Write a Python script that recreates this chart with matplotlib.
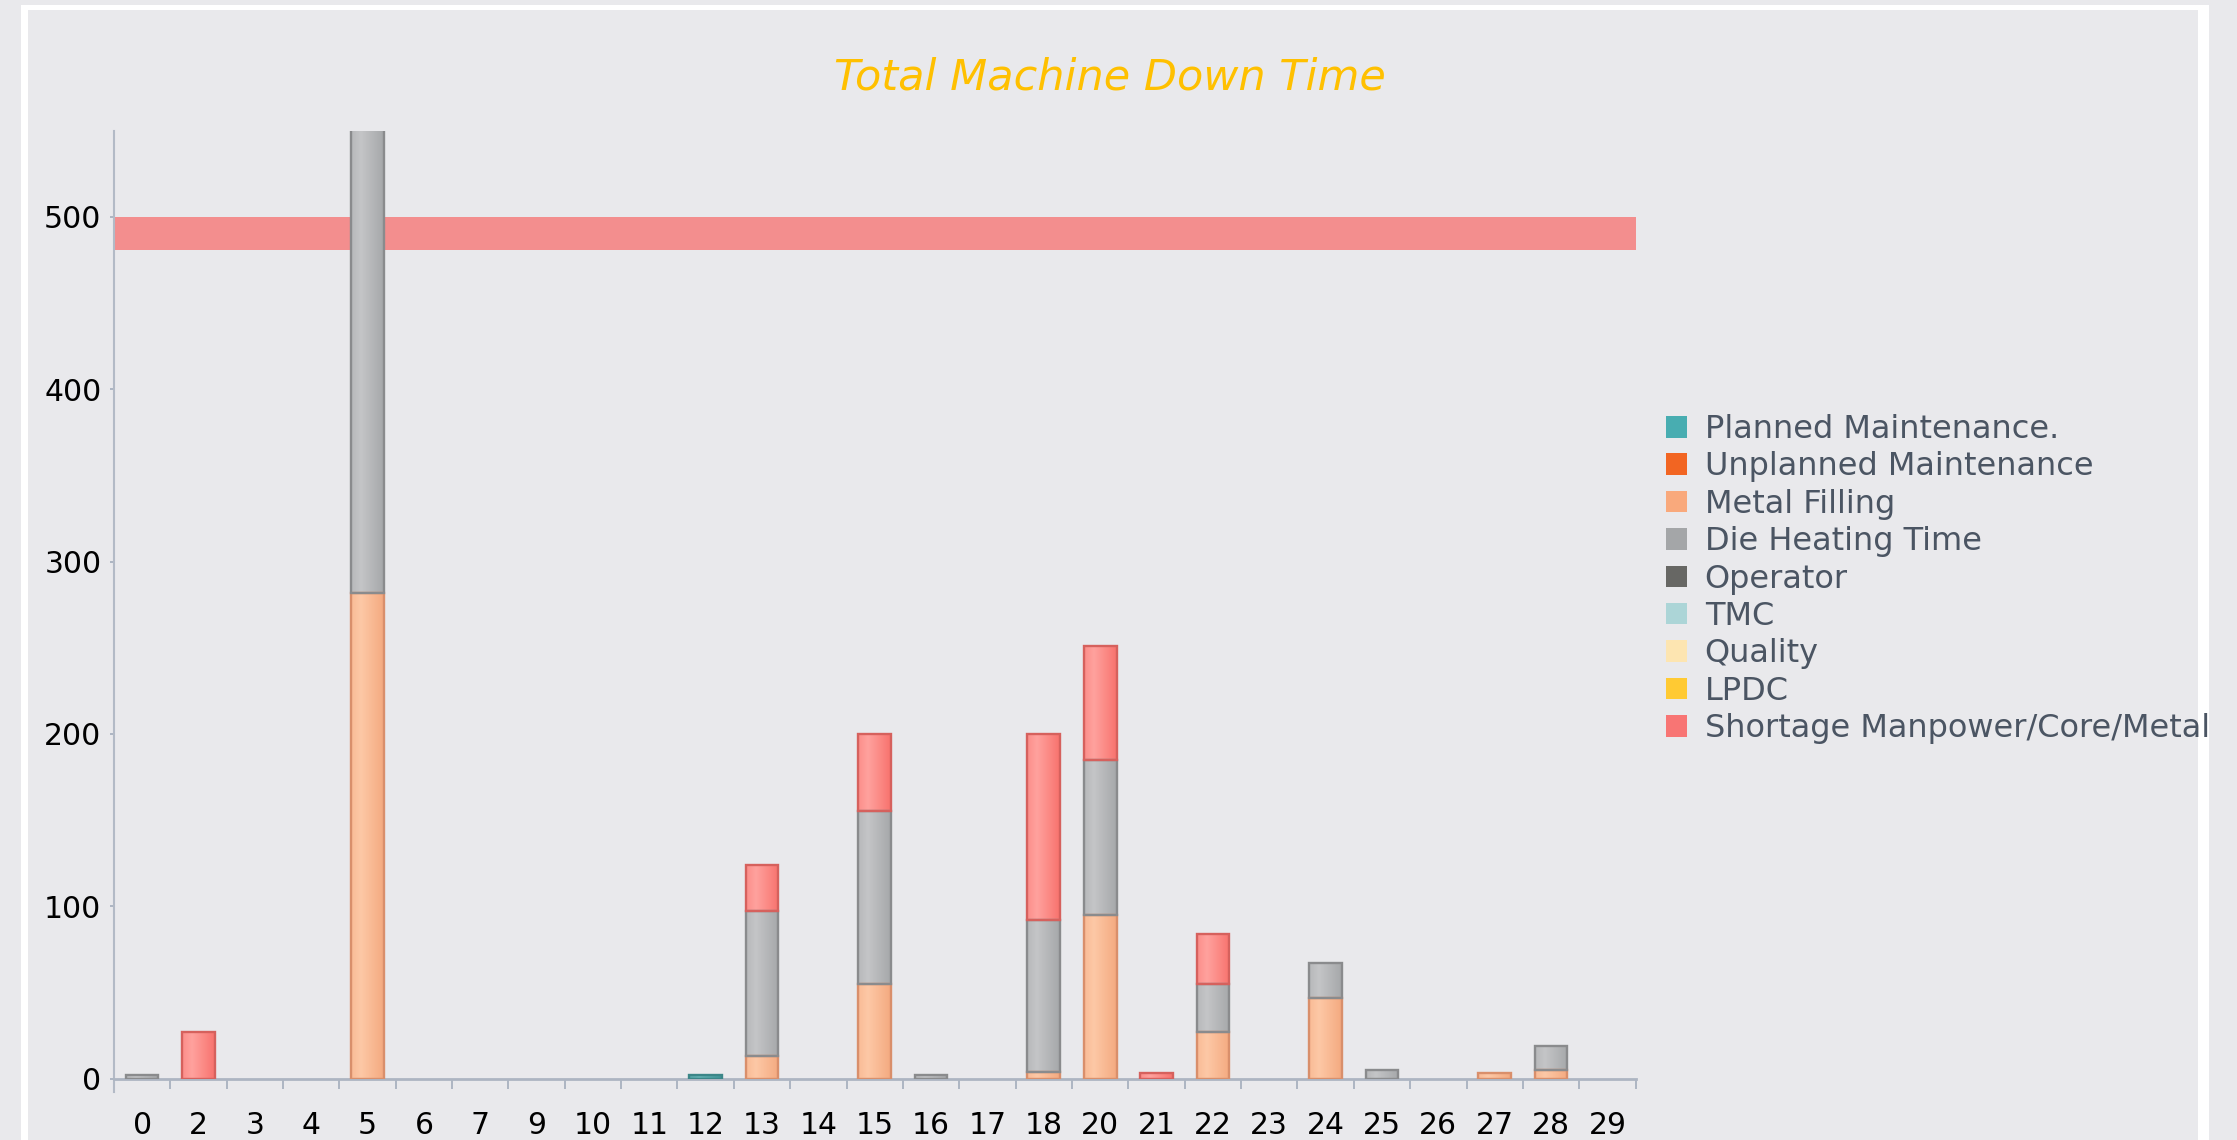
import numpy as np
import matplotlib
matplotlib.use('Agg')
import matplotlib.pyplot as plt
from matplotlib.patches import Patch, Rectangle
from matplotlib.colors import to_rgb

# data
categories = ['0', '2', '3', '4', '5', '6', '7', '9', '10', '11', '12', '13', '14', '15',
              '16', '17', '18', '20', '21', '22', '23', '24', '25', '26', '27', '28', '29']

planned    = [0, 0, 0, 0, 0,   0, 0, 0, 0, 0, 2, 0,  0, 0,   0, 0, 0,   0,  0, 0,  0, 0,  0, 0, 0, 0,  0]
unplanned  = [0, 0, 0, 0, 0,   0, 0, 0, 0, 0, 0, 0,  0, 0,   0, 0, 0,   0,  0, 0,  0, 0,  0, 0, 0, 0,  0]
metal      = [0, 0, 0, 0, 282, 0, 0, 0, 0, 0, 0, 13, 0, 55,  0, 0, 4,   95, 0, 27, 0, 47, 0, 0, 3, 5,  0]
die_heat   = [2, 0, 0, 0, 290, 0, 0, 0, 0, 0, 0, 84, 0, 100, 2, 0, 88,  90, 0, 28, 0, 20, 5, 0, 0, 14, 0]
operator   = [0] * 27
tmc        = [0] * 27
quality    = [0] * 27
lpdc       = [0] * 27
shortage   = [0, 27, 0, 0, 0, 0, 0, 0, 0, 0, 0, 27, 0, 45, 0, 0, 108, 66, 3, 29, 0, 0, 0, 0, 0, 0, 0]

series_names = ['Planned Maintenance.', 'Unplanned Maintenance', 'Metal Filling', 'Die Heating Time',
                'Operator', 'TMC', 'Quality', 'LPDC', 'Shortage Manpower/Core/Metal']
series_values = [planned, unplanned, metal, die_heat, operator, tmc, quality, lpdc, shortage]

legend_colors = ['#48adb1', '#f26522', '#f9a97c', '#a4a6a8', '#676764',
                 '#acd5d7', '#fde5b1', '#ffca33', '#f87574']
# (light, dark, edge) for the shaded bars
bar_shades = [('#66b3b5', '#3f9598', '#3b8688'),
              ('#f7844a', '#e0581a', '#c04a14'),
              ('#fdc8a6', '#f4aa80', '#d98f6b'),
              ('#c4c5c7', '#a6a8aa', '#8a8b8d'),
              ('#858582', '#5e5e5b', '#4a4a48'),
              ('#c4e3e4', '#9ccccf', '#83b5b7'),
              ('#fff0cc', '#fadc9c', '#dcc083'),
              ('#ffd85e', '#f5bf1f', '#d6a418'),
              ('#ffa29e', '#f8736e', '#d6615d')]

target_low, target_high = 481, 500

bg = '#e9e9ec'
W, H = 2237, 1140
fig = plt.figure(figsize=(W / 100, H / 100), dpi=100, facecolor=bg)

# white frame around the chart
for (x, y, w, h) in [(21, 0, 7, H - 5), (2198, 0, 11, H - 5), (21, H - 10, 2188, 5)]:
    fig.patches.append(Rectangle((x / W, y / H), w / W, h / H, transform=fig.transFigure,
                                 facecolor='white', edgecolor='none', zorder=0))

ax = fig.add_axes([113.9 / W, (H - 1078.6) / H, (1635.6 - 113.9) / W, (1078.6 - 130.8) / H])
ax.set_facecolor(bg)

x = np.arange(len(categories))
bar_w = 0.58


def shade_bar(patch, light, dark):
    x0, y0 = patch.get_x(), patch.get_y()
    w, h = patch.get_width(), patch.get_height()
    t = np.linspace(0, 1, 64)
    f = np.clip(1 - np.abs(t - 0.3) / 0.7, 0, 1)
    lo, hi = np.array(to_rgb(dark)), np.array(to_rgb(light))
    rgb = lo + (hi - lo) * f[:, None]
    ax.imshow(rgb[None, :, :], extent=[x0, x0 + w, y0, y0 + h], aspect='auto',
              interpolation='bilinear', zorder=2)


bottom = np.zeros(len(categories))
for vals, (light, dark, edge) in zip(series_values, bar_shades):
    vals = np.array(vals, dtype=float)
    bars = ax.bar(x, vals, bar_w, bottom=bottom, facecolor='none', edgecolor=edge,
                  linewidth=1.7, zorder=3)
    for p, v in zip(bars, vals):
        if v > 0:
            shade_bar(p, light, dark)
        else:
            p.set_visible(False)
    bottom += vals

# target band
ax.axhspan(target_low, target_high, color='#f38e8e', lw=0, zorder=1)

ax.set_xlim(-0.5, len(categories) - 0.5)
ax.set_ylim(0, 550)

ax.set_xticks(x)
ax.set_xticklabels(categories)
ax.set_xticks(np.arange(-0.5, len(categories)), minor=True)
ax.tick_params(axis='x', which='major', length=0, pad=23, labelsize=21.5, labelcolor='black')
ax.tick_params(axis='x', which='minor', length=7, width=1.4, color='#adb5c2')
ax.set_yticks([0, 100, 200, 300, 400, 500])
ax.tick_params(axis='y', length=3, width=1.4, color='#adb5c2', pad=6, labelsize=21.5,
               labelcolor='black')

for s in ['top', 'right']:
    ax.spines[s].set_visible(False)
ax.spines['left'].set_color('#b3bac6')
ax.spines['left'].set_linewidth(1.5)
ax.spines['bottom'].set_color('#adb5c2')
ax.spines['bottom'].set_linewidth(2)
ax.spines['left'].set_bounds(-8, 550)

fig.text(1110 / W, 1 - 78 / H, 'Total Machine Down Time', ha='center', va='center',
         style='italic', color='#ffc000', fontsize=31)

handles = [Patch(facecolor=c, edgecolor='none') for c in legend_colors]
leg = fig.legend(handles, series_names, loc='upper left',
                 bbox_to_anchor=(1666 / W, 1 - 414 / H), frameon=False, borderpad=0,
                 borderaxespad=0, fontsize=23, labelspacing=0.2, handlelength=0.66,
                 handleheight=0.66, handletextpad=0.55, labelcolor='#4b5563')

fig.savefig('out.png', dpi=100, facecolor=bg)
